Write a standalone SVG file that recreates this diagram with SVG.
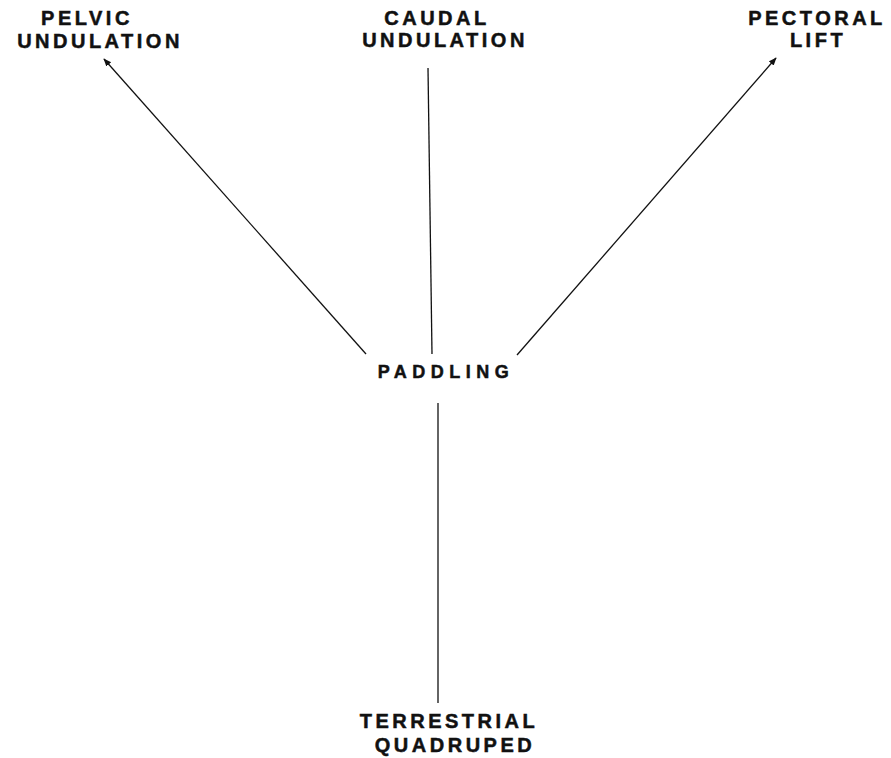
<svg xmlns="http://www.w3.org/2000/svg" width="891" height="758" viewBox="0 0 891 758">
<defs>
<style>
.t{font-family:"Liberation Sans",Arial,sans-serif;font-weight:bold;font-size:20px;fill:#111;stroke:#111;stroke-width:0.5;text-anchor:middle;letter-spacing:3.5px}
.p{font-size:18px;letter-spacing:5.5px}
.c{stroke:#111;stroke-width:1.3;fill:none}
</style>
<marker id="ah" viewBox="0 0 10 10" refX="9" refY="5" markerWidth="8" markerHeight="8" markerUnits="userSpaceOnUse" orient="auto">
<path d="M0,1 L10,5 L0,9 z" fill="#111"/>
</marker>
</defs>
<rect width="891" height="758" fill="#fff"/>
<g id="connectors">
<line class="c" x1="366" y1="354" x2="104" y2="59" marker-end="url(#ah)"/>
<line class="c" x1="428" y1="68" x2="432" y2="354"/>
<line class="c" x1="517" y1="355" x2="776" y2="58" marker-end="url(#ah)"/>
<line class="c" x1="438" y1="403" x2="438" y2="703"/>
</g>
<g id="pelvic"><text class="t" x="87" y="25">PELVIC</text><text class="t" x="100" y="48">UNDULATION</text></g>
<g id="caudal"><text class="t" x="437" y="25">CAUDAL</text><text class="t" x="445" y="47">UNDULATION</text></g>
<g id="pectoral"><text class="t" x="817" y="25">PECTORAL</text><text class="t" x="818" y="47">LIFT</text></g>
<g id="paddling"><text class="t p" x="446" y="378">PADDLING</text></g>
<g id="terrestrial"><text class="t" x="449" y="728">TERRESTRIAL</text><text class="t" x="455" y="752">QUADRUPED</text></g>
</svg>
